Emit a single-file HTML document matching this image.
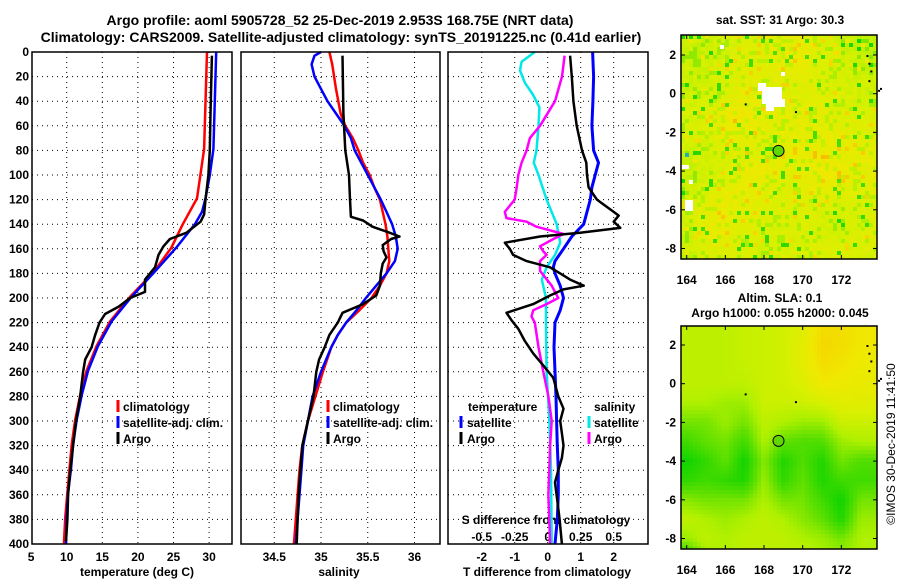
<!DOCTYPE html>
<html><head><meta charset="utf-8"><style>
html,body{margin:0;padding:0;background:#fff;}
svg{display:block;font-family:"Liberation Sans",sans-serif;font-weight:bold;}
</style></head><body>
<svg id="c" width="900" height="580" viewBox="0 0 900 580" xmlns="http://www.w3.org/2000/svg">
<text x="340" y="25" font-size="14" text-anchor="middle">Argo profile: aoml 5905728_52 25-Dec-2019 2.953S 168.75E (NRT data)</text>
<text x="341" y="42" font-size="14" text-anchor="middle">Climatology: CARS2009. Satellite-adjusted climatology: synTS_20191225.nc (0.41d earlier)</text>
<text x="780" y="24" font-size="12" text-anchor="middle">sat. SST: 31 Argo: 30.3</text>
<text x="780" y="302" font-size="12" text-anchor="middle">Altim. SLA: 0.1</text>
<text x="780" y="317" font-size="12" text-anchor="middle">Argo h1000: 0.055 h2000: 0.045</text>
<text transform="translate(895,444) rotate(-90)" font-size="12" font-weight="normal" text-anchor="middle">©IMOS 30-Dec-2019 11:41:50</text>
</svg>
<script>
// ---------- data ----------
const tempDepthClim=[0,79,119,140,159,179,199,219,239,259,279,299,319,339,358,378,400];
const tempClim=[29.7,29.3,28.3,26.3,24.7,22.2,18.9,16.1,14.2,12.8,11.9,11.2,10.7,10.4,10.1,9.8,9.6];
const tempDepthSat=[0,40,79,100,119,130,140,159,179,199,219,239,259,279,299,319,339,358,378,400];
const tempSat=[31.0,30.8,30.6,30.1,29.5,29.0,28.0,25.4,22.3,19.1,16.3,14.4,13.0,12.1,11.4,10.9,10.6,10.2,10.0,9.9];
const tempDepthArgo=[3,50,80,100,120,132,138,147,152,158,165,175,185,195,200,207,213,220,230,240,250,260,280,300,320,340,360,380,398];
const tempArgo=[30.4,30.2,30.1,29.9,29.5,29.3,28.8,26.8,24.5,23.6,22.9,22.4,21.0,21.0,18.9,17.3,15.4,14.6,14.0,13.5,12.6,12.3,11.9,11.3,10.9,10.5,10.2,10.1,9.9];

const salDepthClim=[0,10,30,50,60,70,80,90,100,110,120,130,140,150,160,170,180,190,200,210,220,230,240,260,280,300,320,340,360,380,400];
const salClim=[35.09,35.12,35.16,35.21,35.26,35.34,35.40,35.45,35.52,35.57,35.63,35.66,35.69,35.71,35.72,35.73,35.70,35.63,35.54,35.41,35.27,35.18,35.11,35.02,34.94,34.86,34.80,34.77,34.75,34.73,34.71];
const salDepthSat=[0,3,10,20,30,40,50,60,70,80,90,100,110,120,130,140,150,160,170,180,190,200,210,220,230,240,260,280,300,320,340,360,380,400];
const salSat=[35.0,34.93,34.9,34.93,35.0,35.07,35.16,35.25,35.32,35.36,35.43,35.5,35.57,35.64,35.70,35.76,35.80,35.82,35.79,35.70,35.59,35.48,35.38,35.27,35.18,35.11,35.0,34.91,34.86,34.81,34.79,34.77,34.75,34.73];
const salDepthArgo=[3,50,80,100,120,134,137,142,146,150,152,157,162,167,172,180,190,198,205,212,220,230,240,250,260,280,300,320,340,360,380,400];
const salArgo=[35.23,35.24,35.26,35.3,35.31,35.32,35.45,35.55,35.70,35.84,35.75,35.66,35.67,35.70,35.66,35.64,35.63,35.59,35.45,35.23,35.18,35.09,35.04,34.98,34.95,34.92,34.86,34.8,34.78,34.76,34.75,34.74];

const dTDepthSat=[0,20,40,60,80,90,100,110,120,130,140,150,160,170,175,180,190,200,210,220,240,260,280,300,320,340,360,380,400];
const dTSat=[1.36,1.39,1.37,1.34,1.39,1.54,1.44,1.34,1.29,1.19,1.09,0.73,0.48,0.22,0.17,0.22,0.38,0.48,0.38,0.22,0.19,0.22,0.25,0.27,0.29,0.32,0.32,0.29,0.22];
const dTDepthArgo=[3,20,40,60,80,90,100,110,120,130,133,138,143,147,150,155,160,165,170,175,180,185,190,193,198,205,212,218,225,235,245,255,265,280,290,300,310,320,330,340,350,360,380,400];
const dTArgo=[0.68,0.73,0.78,0.88,1.04,1.17,1.19,1.24,1.49,2.0,2.15,2.0,2.2,0.98,-0.23,-1.3,-1.15,-1.05,-0.64,0.07,0.38,0.68,1.09,0.48,0.07,-0.44,-1.25,-1.1,-0.89,-0.69,-0.44,-0.13,0.17,0.32,0.48,0.38,0.43,0.48,0.43,0.32,0.22,0.27,0.36,0.43];
const dSDepthSat=[0,8,15,25,35,45,60,80,90,100,120,140,155,165,175,185,200,220,260,300,340,400];
const dSSat=[-0.098,-0.198,-0.21,-0.173,-0.11,-0.063,-0.07,-0.085,-0.105,-0.07,-0.008,0.068,0.095,0.055,-0.008,-0.045,-0.013,-0.013,-0.008,0.013,0.025,0.03];
const dSDepthArgo=[3,20,40,60,70,80,90,100,110,120,130,135,138,142,148,152,158,162,165,170,178,190,195,200,205,210,215,220,240,260,280,300,320,360,400];
const dSArgo=[0.128,0.108,0.055,-0.058,-0.135,-0.16,-0.198,-0.223,-0.235,-0.25,-0.325,-0.313,-0.16,-0.085,0.12,0.043,-0.058,-0.033,-0.008,-0.058,-0.058,0.03,0.055,0.08,-0.008,-0.11,-0.123,-0.098,-0.07,-0.033,0.005,0.03,0.018,0.005,0.018];

const depthTicks=[0,20,40,60,80,100,120,140,160,180,200,220,240,260,280,300,320,340,360,380,400];
const tempTicks=[5,10,15,20,25,30];
const salTicks=[34.5,35,35.5,36];
const salTickLabels=["34.5","35","35.5","36"];
const dTTicks=[-2,-1,0,1,2];
const dSTicks=[-0.5,-0.25,0,0.25,0.5];
const dSTickLabels=["-0.5","-0.25","0","0.25","0.5"];
const latTicks=[2,0,-2,-4,-6,-8];
const lonTicks=[164,166,168,170,172];
const argoLon=168.75, argoLat=-2.953;
// SLA coarse grid: rows lat 3..-9, cols lon 164..173 (0=green,1=orange)
const slaGrid=[
[0.55,0.55,0.55,0.58,0.6,0.62,0.7,0.85,0.85,0.8],
[0.55,0.55,0.55,0.58,0.6,0.62,0.72,0.88,0.85,0.8],
[0.55,0.55,0.55,0.58,0.6,0.62,0.72,0.85,0.82,0.78],
[0.55,0.55,0.55,0.55,0.6,0.62,0.68,0.8,0.78,0.75],
[0.5,0.5,0.45,0.45,0.6,0.6,0.6,0.65,0.7,0.7],
[0.35,0.35,0.45,0.35,0.55,0.5,0.45,0.45,0.6,0.6],
[0.2,0.3,0.35,0.2,0.5,0.3,0.25,0.25,0.45,0.5],
[0.05,0.15,0.3,0.05,0.4,0.1,0.25,0.1,0.35,0.25],
[0.15,0.2,0.15,0.1,0.45,0.15,0.3,0.1,0.2,0.2],
[0.4,0.35,0.35,0.35,0.5,0.35,0.35,0.2,0.05,0.35],
[0.55,0.5,0.45,0.5,0.55,0.5,0.4,0.3,0.1,0.45],
[0.45,0.55,0.5,0.55,0.55,0.55,0.5,0.45,0.35,0.5],
[0.1,0.45,0.5,0.55,0.55,0.55,0.55,0.5,0.45,0.5]];
// SST coarse grid (same layout)
const sstGrid=[
[0.6,0.6,0.65,0.67,0.69,0.72,0.72,0.67,0.6,0.55],
[0.6,0.6,0.65,0.69,0.72,0.77,0.75,0.69,0.63,0.58],
[0.6,0.63,0.67,0.72,0.69,0.72,0.72,0.69,0.65,0.6],
[0.6,0.65,0.67,0.72,0.69,0.67,0.69,0.69,0.67,0.63],
[0.65,0.69,0.77,0.79,0.72,0.73,0.73,0.71,0.69,0.67],
[0.63,0.69,0.75,0.77,0.73,0.73,0.73,0.73,0.72,0.69],
[0.6,0.65,0.69,0.72,0.69,0.73,0.75,0.77,0.73,0.72],
[0.57,0.63,0.67,0.73,0.75,0.71,0.73,0.77,0.77,0.73],
[0.6,0.67,0.72,0.75,0.71,0.69,0.72,0.73,0.73,0.69],
[0.65,0.73,0.75,0.72,0.69,0.67,0.69,0.65,0.62,0.67],
[0.6,0.75,0.75,0.69,0.67,0.67,0.67,0.65,0.62,0.69],
[0.58,0.69,0.69,0.67,0.65,0.65,0.67,0.69,0.67,0.67],
[0.58,0.62,0.65,0.65,0.63,0.65,0.67,0.65,0.65,0.62]];

// ---------- helpers ----------
const NS="http://www.w3.org/2000/svg";
const svg=document.getElementById('c');
function mk(tag,attrs,parent){const e=document.createElementNS(NS,tag);for(const k in attrs)e.setAttribute(k,attrs[k]);(parent||svg).appendChild(e);return e;}
const TOP=52,BOT=544;
const yD=d=>TOP+(d/400)*(BOT-TOP);
const panels={
 temp:{x0:32,x1:232,f:v=>66.7+(v-10)*7.12},
 sal:{x0:241,x1:440,f:v=>321+(v-35)*93.5},
 diff:{x0:448,x1:648,f:v=>547.7+v*33}
};
const xS=v=>panels.diff.f(v*4);

function frame(p,name){
  const r=mk('rect',{x:p.x0,y:TOP,width:p.x1-p.x0,height:BOT-TOP,fill:'none',stroke:'#000','stroke-width':1.5});
  
  
}
function hgrid(p){
  depthTicks.forEach(d=>{ if(d===0||d===400)return;
    const l=mk('line',{x1:p.x0,x2:p.x1,y1:yD(d),y2:yD(d),stroke:'#000','stroke-width':1,'stroke-dasharray':'1,4'});
    
    
  });
}
function vgrid(p,ticks,fx){
  ticks.forEach(t=>{const x=fx(t); if(x<=p.x0+1||x>=p.x1-1)return;
    const l=mk('line',{x1:x,x2:x,y1:TOP,y2:BOT,stroke:'#000','stroke-width':1,'stroke-dasharray':'1,4'});
    
    
  });
}
function txt(x,y,s,size,anchor,name,color){
  const t=mk('text',{x:x,y:y,'font-size':size,'text-anchor':anchor||'middle',fill:color||'#000'});
  t.textContent=s;
  
  
  return t;
}
function series(depths,vals,fx,color,w,name){
  const pts=depths.map((d,i)=>fx(vals[i]).toFixed(1)+','+yD(d).toFixed(1)).join(' ');
  const pl=mk('polyline',{points:pts,fill:'none',stroke:color,'stroke-width':w,'stroke-linejoin':'round'});
  
  
}
function legendBar(x,y,color,name){
  const l=mk('line',{x1:x,x2:x,y1:y-11,y2:y+1,stroke:color,'stroke-width':3});
  
  
}

// ---------- profile panels ----------
['temp','sal','diff'].forEach(k=>hgrid(panels[k]));
vgrid(panels.temp,tempTicks,panels.temp.f);
vgrid(panels.sal,salTicks,panels.sal.f);
vgrid(panels.diff,dTTicks,panels.diff.f);

depthTicks.forEach(d=>txt(29,yD(d)+4,String(d),12,'end','depth-tick-label'));
tempTicks.forEach(t=>txt(panels.temp.f(t),561,String(t),12,'middle','temp-tick-label'));
salTicks.forEach((t,i)=>txt(panels.sal.f(t),561,salTickLabels[i],12,'middle','salinity-tick-label'));
dTTicks.forEach(t=>txt(panels.diff.f(t),561,String(t),12,'middle','tdiff-tick-label'));
dSTicks.forEach((t,i)=>txt(xS(t),541,dSTickLabels[i],12,'middle','sdiff-tick-label'));
txt(137,576,'temperature (deg C)',12,'middle','temp-axis-title');
txt(339,576,'salinity',12,'middle','salinity-axis-title');
txt(547,576,'T difference from climatology',12,'middle','tdiff-axis-title');
txt(546,524,'S difference from climatology',12,'middle','sdiff-axis-title');

series(tempDepthClim,tempClim,panels.temp.f,'#ff0000',2.5,'temp-climatology-line');
series(tempDepthSat,tempSat,panels.temp.f,'#0000ff',2.5,'temp-satellite-line');
series(tempDepthArgo,tempArgo,panels.temp.f,'#000000',2.5,'temp-argo-line');
series(salDepthClim,salClim,panels.sal.f,'#ff0000',2.5,'salinity-climatology-line');
series(salDepthSat,salSat,panels.sal.f,'#0000ff',2.5,'salinity-satellite-line');
series(salDepthArgo,salArgo,panels.sal.f,'#000000',2.5,'salinity-argo-line');
series(dSDepthSat,dSSat,xS,'#00e8e8',2.5,'sdiff-satellite-line');
series(dSDepthArgo,dSArgo,xS,'#ff00ff',2.5,'sdiff-argo-line');
series(dTDepthSat,dTSat,panels.diff.f,'#0000ff',3,'tdiff-satellite-line');
series(dTDepthArgo,dTArgo,panels.diff.f,'#000000',2.5,'tdiff-argo-line');

frame(panels.temp,'temperature-panel');
frame(panels.sal,'salinity-panel');
frame(panels.diff,'difference-panel');

// legends
[[118,'#ff0000','climatology'],[118,'#0000ff','satellite-adj. clim.'],[118,'#000000','Argo']].forEach((e,i)=>{
  legendBar(e[0],411+i*16,e[1],'temp-legend-marker');
  txt(e[0]+5,411+i*16,e[2],12,'start','temp-legend-entry');
});
[[328,'#ff0000','climatology'],[328,'#0000ff','satellite-adj. clim.'],[328,'#000000','Argo']].forEach((e,i)=>{
  legendBar(e[0],411+i*16,e[1],'salinity-legend-marker');
  txt(e[0]+5,411+i*16,e[2],12,'start','salinity-legend-entry');
});
txt(468,411,'temperature',12,'start','diff-legend-temperature-heading');
legendBar(461,427,'#0000ff','diff-legend-marker');
txt(467,427,'satellite',12,'start','diff-legend-entry');
legendBar(461,443,'#000000','diff-legend-marker');
txt(467,443,'Argo',12,'start','diff-legend-entry');
txt(594,411,'salinity',12,'start','diff-legend-salinity-heading');
legendBar(589,427,'#00e8e8','diff-legend-marker');
txt(594,427,'satellite',12,'start','diff-legend-entry');
legendBar(589,443,'#ff00ff','diff-legend-marker');
txt(594,443,'Argo',12,'start','diff-legend-entry');

// ---------- maps ----------
const stops=[[0,[0,208,0]],[0.3,[96,224,0]],[0.5,[176,240,0]],[0.65,[216,240,0]],[0.8,[240,232,0]],[0.95,[248,200,0]],[1,[250,170,0]]];
function ramp(v){v=Math.max(0,Math.min(1,v));for(let i=1;i<stops.length;i++){if(v<=stops[i][0]){const a=stops[i-1],b=stops[i],t=(v-a[0])/(b[0]-a[0]);return 'rgb('+a[1].map((c,j)=>Math.round(c+(b[1][j]-c)*t)).join(',')+')';}}return 'rgb(250,170,0)';}
function sample(g,lon,lat){
  let cx=lon-164, ry=3-lat; cx=Math.max(0,Math.min(9,cx)); ry=Math.max(0,Math.min(12,ry));
  const c0=Math.min(8,Math.floor(cx)),r0=Math.min(11,Math.floor(ry)),tx=cx-c0,ty=ry-r0;
  return g[r0][c0]*(1-tx)*(1-ty)+g[r0][c0+1]*tx*(1-ty)+g[r0+1][c0]*(1-tx)*ty+g[r0+1][c0+1]*tx*ty;
}
function hash(i,j){let h=(i*374761393+j*668265263)>>>0;h=((h^(h>>>13))*1274126177)>>>0;return ((h^(h>>>16))>>>0)/4294967295;}
const lonX=lon=>686.7+(lon-164)*19.33;
const PPD=19.35;
function drawMap(y0,y1,lat2y,grid,noisy,name,labelY){
  const x0=681,x1=877;
  const g=mk('g',{});
  
  
  const cw=4,ch=4;
  for(let y=y0,j=0;y<y1;y+=ch,j++){for(let x=x0,i=0;x<x1;x+=cw,i++){
    const lon=164+(x+cw/2-686.7)/19.33, lat=2-(y+ch/2-lat2y(2))/PPD;
    let v=sample(grid,lon,lat);
    if(noisy){const h=hash(i,j); if(h<0.05)v-=0.5; else if(h<0.2)v-=0.18; else if(h>0.96)v+=0.2; else v+=(h-0.58)*0.12;}
    mk('rect',{x:x,y:y,width:Math.min(cw,x1-x),height:Math.min(ch,y1-y),fill:ramp(v)},g);
  }}
  if(noisy){ // missing-data patches
    [[720,45,4,4],[758,83,8,8],[762,87,20,17],[766,103,8,8],[773,99,12,8],[781,72,4,4],[681,165,8,4],[689,180,4,4],[685,200,8,11]].forEach(p=>{
      mk('rect',{x:p[0],y:p[1],width:p[2],height:p[3],fill:'#fff'},g);
    });
    mk('rect',{x:685,y:153,width:4,height:4,fill:'#20b0b0'},g);
  }
  const b=mk('rect',{x:x0,y:y0,width:x1-x0,height:y1-y0,fill:'none',stroke:'#000','stroke-width':1.5});
  
  
  latTicks.forEach(l=>{txt(676,lat2y(l)+4,String(l),12,'end',name+'-lat-label');
    mk('line',{x1:x0,x2:x0+4,y1:lat2y(l),y2:lat2y(l),stroke:'#000'});mk('line',{x1:x1-4,x2:x1,y1:lat2y(l),y2:lat2y(l),stroke:'#000'});});
  lonTicks.forEach(l=>{txt(lonX(l),labelY,String(l),12,'middle',name+'-lon-label');
    mk('line',{x1:lonX(l),x2:lonX(l),y1:y1-4,y2:y1,stroke:'#000'});mk('line',{x1:lonX(l),x2:lonX(l),y1:y0,y2:y0+4,stroke:'#000'});});
  const c=mk('circle',{cx:lonX(argoLon),cy:lat2y(argoLat),r:5.5,fill:'#60d800',stroke:'#000','stroke-width':1});
  
  
  [[173.3,2.0],[173.4,1.6],[173.5,1.2],[173.4,0.7],[173.9,0.2],[174,0.3],[167,-0.5],[169.6,-0.9]].forEach(p=>mk('rect',{x:lonX(p[0]),y:lat2y(p[1]),width:2,height:2,fill:'#000'}));
}
// hash noise is only texture for the satellite SST image; values come from sstGrid
drawMap(35,259,l=>55+(2-l)*PPD,sstGrid,true,'sst-map',284);
drawMap(326,549,l=>345+(2-l)*PPD,slaGrid,false,'sla-map',574);
</script>
</body></html>
